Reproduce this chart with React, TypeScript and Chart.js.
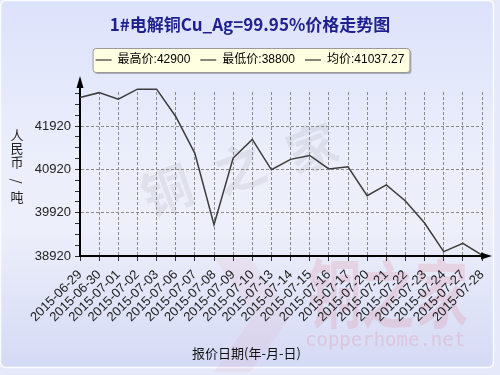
import React, { useEffect, useRef } from 'react';
import { Chart, registerables } from 'chart.js';

Chart.register(...registerables);

const categories = [
  '2015-06-29', '2015-06-30', '2015-07-01', '2015-07-02', '2015-07-03', '2015-07-06',
  '2015-07-07', '2015-07-08', '2015-07-09', '2015-07-10', '2015-07-13', '2015-07-14',
  '2015-07-15', '2015-07-16', '2015-07-17', '2015-07-20', '2015-07-21', '2015-07-22',
  '2015-07-23', '2015-07-24', '2015-07-27', '2015-07-28',
];
const prices = [
  42580, 42690, 42540, 42770, 42770, 42140,
  41290, 39640, 41180, 41610, 40910, 41150,
  41240, 40930, 40980, 40310, 40560, 40190,
  39680, 39020, 39210, 38940,
];
const yMajorTicks = [38920, 39920, 40920, 41920];
const yMinorStep = 250;
const yMin = 38920;
const yMax = 42705;
const legendTexts = ['最高价:42900', '最低价:38800', '均价:41037.27'];
const titleText = '1#电解铜Cu_Ag=99.95%价格走势图';
const yTitleChars = ['人', '民', '币', '/', '吨'];
const xTitleText = '报价日期(年-月-日)';

const CJK = '"Noto Sans CJK SC"';
const SANS = '"Liberation Sans", "Noto Sans CJK SC", sans-serif';

function roundRectPath(ctx: CanvasRenderingContext2D, x: number, y: number, w: number, h: number, r: number) {
  ctx.beginPath();
  ctx.moveTo(x + r, y);
  ctx.lineTo(x + w - r, y);
  ctx.quadraticCurveTo(x + w, y, x + w, y + r);
  ctx.lineTo(x + w, y + h - r);
  ctx.quadraticCurveTo(x + w, y + h, x + w - r, y + h);
  ctx.lineTo(x + r, y + h);
  ctx.quadraticCurveTo(x, y + h, x, y + h - r);
  ctx.lineTo(x, y + r);
  ctx.quadraticCurveTo(x, y, x + r, y);
  ctx.closePath();
}

const decorPlugin = {
  id: 'decor',
  beforeDraw(chart: any) {
    const ctx: CanvasRenderingContext2D = chart.ctx;
    const W = chart.width;
    const H = chart.height;
    ctx.save();
    ctx.fillStyle = '#E6E9F9';
    ctx.fillRect(0, 0, W, H);
    const g = ctx.createLinearGradient(0, 0, 0, 368);
    g.addColorStop(0, '#DCE2FB');
    g.addColorStop(0.45, '#ECEFFB');
    g.addColorStop(0.62, '#EDEFFA');
    g.addColorStop(1, '#D5DAF5');
    roundRectPath(ctx, 0.5, 0.5, 493, 367, 6);
    ctx.fillStyle = g;
    ctx.fill();
    ctx.lineWidth = 1.5;
    ctx.strokeStyle = '#FAFBFF';
    ctx.stroke();

    // gray watermark in plot
    ctx.fillStyle = 'rgba(110,110,110,0.11)';
    ctx.font = `bold 50px ${CJK}`;
    ctx.textAlign = 'center';
    ctx.textBaseline = 'middle';
    const wm = [['铜', 167, 190], ['之', 240, 168], ['家', 312, 148]] as const;
    wm.forEach(([c, x, y]) => {
      ctx.save();
      ctx.translate(x, y);
      ctx.rotate(-0.35);
      ctx.fillText(c, 0, 0);
      ctx.restore();
    });

    // pink watermark
    ctx.fillStyle = 'rgba(225,120,140,0.08)';
    ctx.beginPath();
    ctx.moveTo(214, 258);
    ctx.lineTo(250, 258);
    ctx.lineTo(292, 315);
    ctx.lineTo(250, 372);
    ctx.lineTo(214, 372);
    ctx.lineTo(254, 315);
    ctx.closePath();
    ctx.fill();
    ctx.fillStyle = 'rgba(225,120,140,0.2)';
    ctx.save();
    ctx.translate(308, 322);
    ctx.scale(0.92, 1.3);
    ctx.textAlign = 'left';
    ctx.textBaseline = 'alphabetic';
    ctx.font = `bold 58px ${CJK}`;
    ctx.fillText('铜之家', 0, 0);
    ctx.restore();
    ctx.fillStyle = 'rgba(225,120,140,0.24)';
    ctx.textAlign = 'left';
    ctx.textBaseline = 'alphabetic';
    ctx.font = '19px "DejaVu Sans Mono", monospace';
    ctx.fillText('copperhome.net', 305, 346);

    // legend box
    const lg = chart.legend;
    if (lg && lg.legendHitBoxes && lg.legendHitBoxes.length) {
      const hb = lg.legendHitBoxes;
      let minL = Infinity;
      let maxR = -Infinity;
      hb.forEach((b: any) => {
        minL = Math.min(minL, b.left);
        maxR = Math.max(maxR, b.left + b.width);
      });
      const cy = hb[0].top + hb[0].height / 2;
      const bx = minL - 3;
      const bw = maxR - minL + 8;
      const by = cy - 12;
      const bh = 24;
      ctx.fillStyle = 'rgba(120,120,120,0.55)';
      roundRectPath(ctx, bx + 2, by + 2, bw, bh, 3);
      ctx.fill();
      roundRectPath(ctx, bx + 0.5, by + 0.5, bw, bh, 3);
      ctx.fillStyle = '#FFFFE1';
      ctx.fill();
      ctx.strokeStyle = '#9A9A9A';
      ctx.lineWidth = 1;
      ctx.stroke();
    }
    ctx.restore();
  },
  afterDraw(chart: any) {
    const ctx: CanvasRenderingContext2D = chart.ctx;
    const { left, right, top, bottom } = chart.chartArea;
    ctx.save();
    ctx.strokeStyle = '#000';
    ctx.fillStyle = '#000';
    ctx.lineWidth = 2;
    ctx.beginPath();
    ctx.moveTo(left, top + 1);
    ctx.lineTo(left, 85);
    ctx.stroke();
    ctx.beginPath();
    ctx.moveTo(left, 76);
    ctx.lineTo(left - 3.5, 88);
    ctx.lineTo(left + 3.5, 88);
    ctx.closePath();
    ctx.fill();
    ctx.beginPath();
    ctx.moveTo(right - 1, bottom);
    ctx.lineTo(485, bottom);
    ctx.stroke();
    ctx.beginPath();
    ctx.moveTo(492, bottom);
    ctx.lineTo(481, bottom - 3.5);
    ctx.lineTo(481, bottom + 3.5);
    ctx.closePath();
    ctx.fill();

    // y title (stacked)
    ctx.fillStyle = '#222';
    ctx.font = `13px ${CJK}`;
    ctx.textAlign = 'center';
    ctx.textBaseline = 'middle';
    const ys = [135.5, 148.5, 162, 181, 197];
    yTitleChars.forEach((c, i) => {
      ctx.save();
      ctx.translate(17, ys[i]);
      if (c === '/') ctx.rotate(Math.PI / 2);
      ctx.fillText(c, 0, 0);
      ctx.restore();
    });

    // x title
    ctx.font = `13px ${CJK}`;
    ctx.fillStyle = '#111';
    ctx.fillText(xTitleText, 246.5, 353);
    ctx.restore();
  },
};

const yTickValues: number[] = [];
for (let v = yMin; v <= yMax; v += yMinorStep) yTickValues.push(v);

export default function App() {
  const ref = useRef<HTMLCanvasElement | null>(null);
  useEffect(() => {
    if (!ref.current) return;
    const chart = new Chart(ref.current, {
      type: 'line',
      data: {
        labels: categories,
        datasets: [
          {
            data: prices,
            borderColor: '#3c3c3c',
            borderWidth: 1.5,
            pointRadius: 0,
            tension: 0,
            fill: false,
            clip: false as any,
          },
        ],
      },
      options: {
        responsive: false,
        animation: false,
        layout: { padding: { left: 0, right: 0, top: 0, bottom: 12 } },
        plugins: {
          title: {
            display: true,
            text: titleText,
            color: '#1F1F8F',
            font: { family: CJK, size: 17, weight: 'bold' },
            padding: { top: 14.8, bottom: 8.8 },
          },
          subtitle: {
            display: true,
            text: '',
            weight: 500,
            font: { size: 1 },
            padding: { top: 0, bottom: 14.8 },
          } as any,
          legend: {
            display: true,
            position: 'top',
            onClick: () => {},
            labels: {
              usePointStyle: true,
              pointStyleWidth: 16,
              padding: 10,
              color: '#000',
              font: { family: SANS, size: 12 },
              generateLabels: () =>
                legendTexts.map((t) => ({
                  text: t,
                  fillStyle: '#333',
                  strokeStyle: '#333',
                  lineWidth: 1.2,
                  pointStyle: 'line',
                  hidden: false,
                  datasetIndex: 0,
                  fontColor: '#000',
                })) as any,
            },
          },
          tooltip: { enabled: false },
        },
        scales: {
          x: {
            type: 'category',
            offset: false,
            grid: {
              color: (c: any) => (c.index === 0 ? 'rgba(0,0,0,0)' : '#8a8a8a'),
              lineWidth: 1,
              tickLength: 5,
              tickColor: '#333',
              tickBorderDash: [],
            },
            border: { color: '#000', width: 2, dash: [3, 2] },
            ticks: {
              autoSkip: false,
              maxRotation: 45,
              minRotation: 45,
              color: '#222',
              padding: 6,
              font: { family: SANS, size: 13 },
            },
            afterFit: (s: any) => {
              s.height = 107;
            },
          },
          y: {
            type: 'linear',
            min: yMin,
            max: yMax,
            afterBuildTicks: (s: any) => {
              s.ticks = yTickValues.map((v) => ({ value: v }));
            },
            grid: {
              color: (c: any) =>
                c.tick && yMajorTicks.includes(c.tick.value) && c.tick.value !== yMin
                  ? '#8a8a8a'
                  : 'rgba(0,0,0,0)',
              lineWidth: 1,
              tickLength: 5,
              tickColor: '#333',
              tickBorderDash: [],
            },
            border: { color: '#000', width: 2, dash: [3, 2] },
            ticks: {
              autoSkip: false,
              color: '#222',
              padding: 4,
              font: { family: SANS, size: 13 },
              callback: (v: any) => (yMajorTicks.includes(Number(v)) ? String(v) : ''),
            },
            afterFit: (s: any) => {
              s.width = 80;
            },
          },
          yR: {
            type: 'linear',
            position: 'right',
            grid: { display: false },
            border: { display: false },
            ticks: { display: false },
            afterFit: (s: any) => {
              s.width = 18;
            },
          },
        },
      } as any,
      plugins: [decorPlugin],
    });
    return () => chart.destroy();
  }, []);
  return (
    <div style={{ position: 'fixed', left: 0, top: 0, width: 500, height: 375 }}>
      <canvas ref={ref} width={500} height={375} />
    </div>
  );
}
